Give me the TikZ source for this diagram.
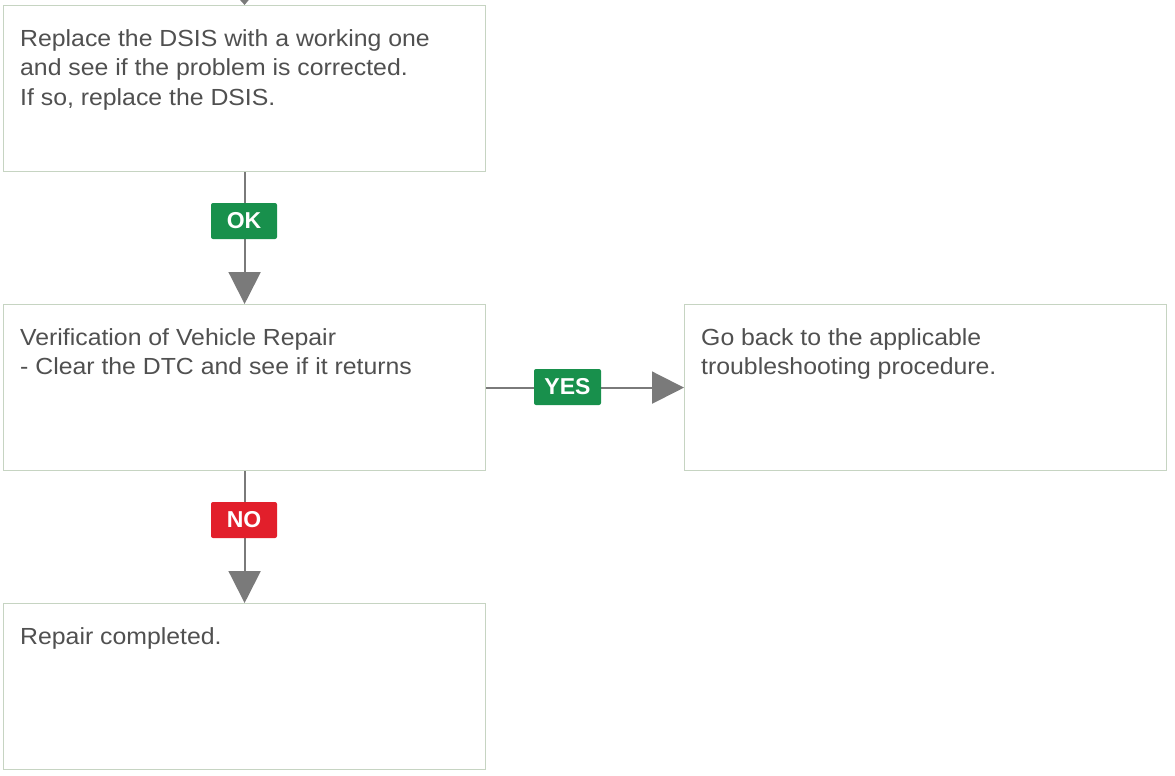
\documentclass[tikz,border=0pt]{standalone}
\usepackage{fontspec}
\setmainfont{Liberation Sans}
\newfontfamily\boxfont{Liberation Sans}[FakeStretch=1.065]
\usetikzlibrary{arrows.meta}
\definecolor{boxline}{HTML}{C6D4C2}
\definecolor{txt}{HTML}{505050}
\definecolor{okgreen}{HTML}{18904C}
\definecolor{nored}{HTML}{E21F2B}
\definecolor{arr}{HTML}{7A7A7A}
\begin{document}
\begin{tikzpicture}[x=1pt,y=-1pt,
  stepbox/.style={draw=boxline,line width=1.2pt,fill=white,minimum width=482pt,minimum height=166pt,anchor=north west,inner sep=0pt},
  boxtext/.style={anchor=north west,text=txt,font=\boxfont\fontsize{23.3}{29.3}\selectfont,align=left,inner sep=0pt},
  conn/.style={draw=arr,line width=2pt,-{Triangle[width=32pt,length=32pt]}},
  tag/.style={fill=#1,text=white,font=\fontsize{23}{23}\selectfont\bfseries,rounded corners=2pt,minimum width=66pt,minimum height=36pt,inner sep=0pt}]
\useasboundingbox (0,0) rectangle (1175,776);
% top incoming tip
\coordinate (topin) at (244,-20);
\node[stepbox] (b1) at (3,5) {};
\node[stepbox] (b2) at (3,304) {};
\node[stepbox] (b3) at (684,304) {};
\node[stepbox] (b4) at (3,603) {};
\draw[draw=arr,line width=2pt,-{Triangle[width=10pt,length=6pt]}] (topin) -- (b1.north);
\node[boxtext] (t1) at (20,29.5) {Replace the DSIS with a working one\\and see if the problem is corrected.\\If so, replace the DSIS.};
\node[boxtext] (t2) at (20,328.5) {Verification of Vehicle Repair\\- Clear the DTC and see if it returns};
\node[boxtext] (t3) at (701,328.5) {Go back to the applicable\\troubleshooting procedure.};
\node[boxtext] (t4) at (20,627.5) {Repair completed.};
\draw[conn] (b1.south) -- (b2.north);
\draw[conn] (b2.east) -- (b3.west);
\draw[conn] (b2.south) -- (b4.north);
\node[tag=okgreen] (ok) at (244,221) {OK};
\node[tag=okgreen,minimum width=67pt] (yes) at (567.5,387) {YES};
\node[tag=nored] (no) at (244,520) {NO};
\end{tikzpicture}
\end{document}
